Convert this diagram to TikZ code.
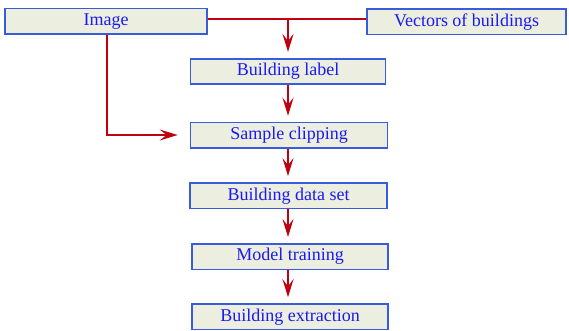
\documentclass[tikz,border=0pt]{standalone}
\usepackage{fontspec}
\setmainfont{Liberation Serif}
\newfontfamily\labelfont{Liberation Serif}
\usetikzlibrary{arrows.meta}
\definecolor{boxfill}{HTML}{ECEEDF}
\definecolor{boxline}{HTML}{3A5CDC}
\definecolor{boxtext}{HTML}{1A1AF0}
\definecolor{flowred}{HTML}{C00010}
\tikzset{
  stepbox/.style={draw=boxline, fill=boxfill, line width=1.7pt, minimum height=25.5pt,
    inner sep=0pt, text=boxtext, font=\labelfont\fontsize{18}{20}\selectfont},
  flow/.style={draw=flowred, line width=1.9pt},
  flowarrow/.style={flow, -{Stealth[length=18pt, width=11pt, inset=7pt]}}
}
\begin{document}
\begin{tikzpicture}[x=1pt, y=-1pt]
  \useasboundingbox (0,0) rectangle (569,331);
  % input boxes
  \node[stepbox, minimum width=202pt] (img) at (106,21.3) {Image};
  \node[stepbox, minimum width=199pt] (vec) at (466.5,21.8) {Vectors of buildings};
  % processing chain
  \node[stepbox, minimum width=195pt] (lab) at (288,71.5) {Building label};
  \node[stepbox, minimum width=197pt] (clip) at (289,135.3) {Sample clipping};
  \node[stepbox, minimum width=197pt] (set) at (288.5,195.7) {Building data set};
  \node[stepbox, minimum width=196pt] (train) at (290,256.6) {Model training};
  \node[stepbox, minimum width=196pt] (ext) at (290,316.8) {Building extraction};
  % joining line between the two inputs
  \coordinate (join) at (288,19);
  \draw[flow] (img.east |- join) -- (vec.west |- join);
  \draw[flowarrow, shorten >=6pt] (join) -- (join |- lab.north);
  % image feeds the clipping step directly
  \coordinate (bend) at (107,135);
  \draw[flowarrow, shorten >=12pt] (bend |- img.south) -- (bend) -- (bend -| clip.west);
  % vertical arrows of the chain
  \draw[flowarrow, shorten >=6pt] (lab.south -| join) -- (clip.north -| join);
  \draw[flowarrow, shorten >=6pt] (clip.south -| join) -- (set.north -| join);
  \draw[flowarrow, shorten >=6pt] (set.south -| join) -- (train.north -| join);
  \draw[flowarrow, shorten >=6pt] (train.south -| join) -- (ext.north -| join);
\end{tikzpicture}
\end{document}
